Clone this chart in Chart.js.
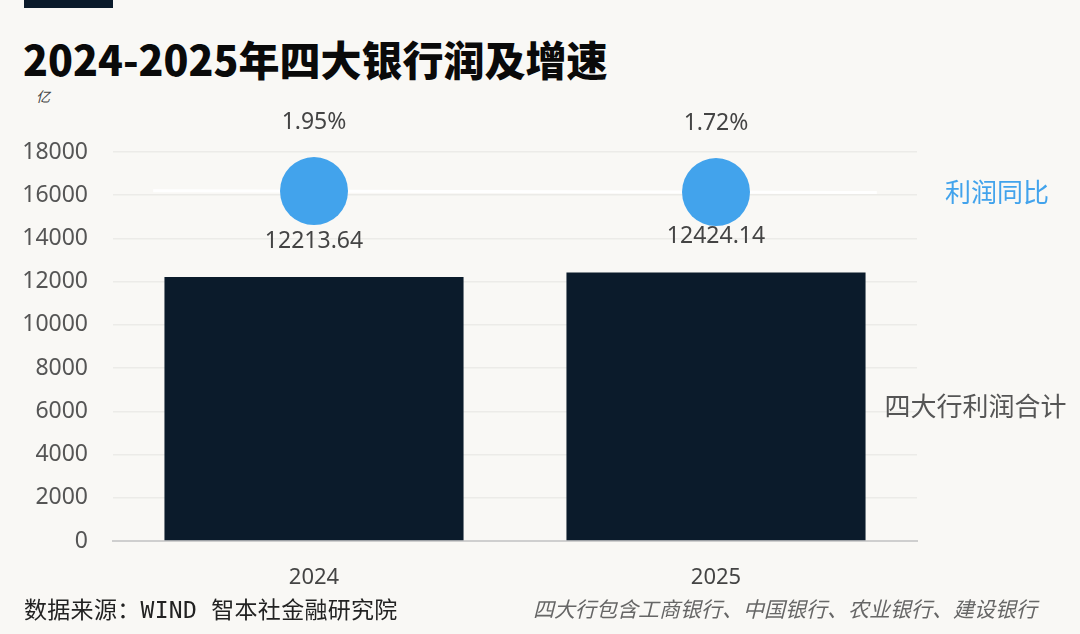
<!DOCTYPE html>
<html>
<head>
<meta charset="utf-8">
<script src="https://cdn.jsdelivr.net/npm/chart.js@4/dist/chart.umd.min.js"></script>
<style>
  html, body { margin: 0; padding: 0; background: #f9f8f5; }
  #wrap { position: relative; width: 1080px; height: 634px; overflow: hidden; background: #f9f8f5; }
  #topbar { position: absolute; left: 24px; top: 0; width: 89px; height: 8px; background: #0b1b2b; }
  #title { position: absolute; left: 23px; top: 28px; font: 900 41px "Noto Sans CJK SC", sans-serif; color: #0a0a0a; white-space: nowrap; }
  #unit { position: absolute; left: 36px; top: 86px; font: italic 14px "Noto Sans CJK SC", sans-serif; color: #444; }
  #source { position: absolute; left: 24px; top: 591px; font: 23px "DejaVu Sans Mono", "Noto Sans CJK SC", monospace; color: #222; white-space: nowrap; letter-spacing: 0.3px; }
  #note { position: absolute; left: 533px; top: 593px; font: italic 21px "Noto Sans CJK SC", sans-serif; color: #666; white-space: nowrap; }
  canvas { position: absolute; left: 0; top: 0; }
</style>
</head>
<body>
<div id="wrap">
  <div id="topbar"></div>
  <div id="title">2024-2025年四大银行润及增速</div>
  <div id="unit">亿</div>
  <canvas id="chart" width="1080" height="634"></canvas>
  <div id="source">数据来源：WIND 智本社金融研究院</div>
  <div id="note">四大行包含工商银行、中国银行、农业银行、建设银行</div>
</div>
<script>
// 数据
const years = ['2024', '2025'];
const profit = [12213.64, 12424.14];      // 四大行利润合计（亿）
const growth = [1.95, 1.72];              // 利润同比（%）
const profitLabel = '四大行利润合计';
const growthLabel = '利润同比';

const BAR_COLOR = '#0b1b2b';
const DOT_COLOR = '#42a3ec';
const TXT = '#444';

// 数值标签 + 右侧系列名 + 白色连线
const labelsPlugin = {
    id: 'labelsPlugin',
    beforeDatasetsDraw: (chart) => {
        const ctx = chart.ctx;
        const pts = chart.getDatasetMeta(1).data;
        if (pts.length < 2) return;
        const a = pts[0], b = pts[pts.length - 1];
        const ext = (b.x - a.x) * 0.4;
        const slope = (b.y - a.y) / (b.x - a.x);
        ctx.save();
        ctx.strokeStyle = '#ffffff';
        ctx.lineWidth = 3;
        ctx.beginPath();
        ctx.moveTo(a.x - ext, a.y - slope * ext);
        ctx.lineTo(b.x + ext, b.y + slope * ext);
        ctx.stroke();
        ctx.restore();
    },
    afterDatasetsDraw: (chart) => {
        const ctx = chart.ctx;
        const area = chart.chartArea;
        ctx.save();
        ctx.textAlign = 'center';
        ctx.textBaseline = 'middle';
        ctx.font = '23px "Noto Sans", sans-serif';
        ctx.fillStyle = TXT;
        const bars = chart.getDatasetMeta(0).data;
        bars.forEach((el, i) => {
            ctx.fillText(profit[i].toFixed(2), el.x, el.y - 36);
        });
        const pts = chart.getDatasetMeta(1).data;
        pts.forEach((el, i) => {
            ctx.fillText(growth[i].toFixed(2) + '%', el.x, el.y - 69);
        });

        // 系列名称
        ctx.textAlign = 'left';
        ctx.font = '26px "Noto Sans CJK SC", sans-serif';
        const lastBar = bars[bars.length - 1];
        ctx.fillStyle = '#555';
        ctx.fillText(profitLabel, lastBar.x + lastBar.width / 2 + 19, (lastBar.y + lastBar.base) / 2);
        const lastPt = pts[pts.length - 1];
        ctx.fillStyle = DOT_COLOR;
        ctx.fillText(growthLabel, area.right + 28, lastPt.y);
        ctx.restore();
    }
};

const chart = new Chart(document.getElementById('chart'), {
    data: {
        labels: years,
        datasets: [
            {
                type: 'bar',
                label: profitLabel,
                data: profit,
                backgroundColor: BAR_COLOR,
                barPercentage: 0.744,
                categoryPercentage: 1,
                yAxisID: 'y',
                order: 2
            },
            {
                type: 'line',
                label: growthLabel,
                data: growth,
                showLine: false,
                pointRadius: 34,
                pointHoverRadius: 34,
                pointBackgroundColor: DOT_COLOR,
                pointBorderWidth: 0,
                yAxisID: 'y2',
                order: 1
            }
        ]
    },
    options: {
        responsive: false,
        animation: false,
        events: [],
        layout: { padding: { left: 0, right: 163, top: 152, bottom: 0 } },
        plugins: { legend: { display: false }, tooltip: { enabled: false } },
        scales: {
            x: {
                grid: { display: false, drawTicks: false },
                border: { display: true, color: '#cfcfcf', width: 2 },
                ticks: { color: TXT, font: { size: 22, family: 'Noto Sans' }, padding: 24 },
                afterFit: (s) => { s.height = 93; }
            },
            y: {
                min: 0, max: 18000,
                ticks: {
                    stepSize: 2000, color: '#555', font: { size: 23, family: 'Noto Sans' }, padding: 25,
                    callback: (v) => String(v)
                },
                grid: { color: '#ecebe8', lineWidth: 1.5, drawTicks: false },
                border: { display: false },
                afterFit: (s) => { s.width = 113; }
            },
            y2: {
                display: false,
                min: -79, max: 11
            }
        }
    },
    plugins: [labelsPlugin]
});
</script>
</body>
</html>
